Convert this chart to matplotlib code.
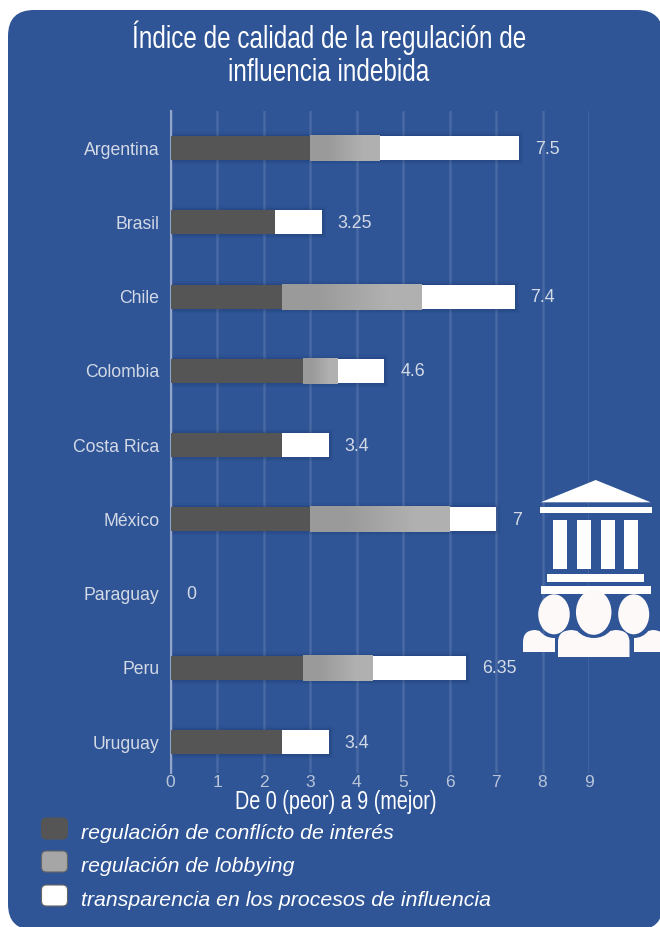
#!/usr/bin/env python3
"""Indice de calidad de la regulacion de influencia indebida - barras apiladas."""
import os
import tempfile

import matplotlib
matplotlib.use("Agg")
import matplotlib.pyplot as plt  # noqa: E402
from fontTools.ttLib import TTFont  # noqa: E402
from matplotlib import font_manager  # noqa: E402
from matplotlib.colors import LinearSegmentedColormap  # noqa: E402
from matplotlib.patches import Ellipse, FancyBboxPatch, PathPatch, Polygon, Rectangle  # noqa: E402
from matplotlib.path import Path  # noqa: E402

PAISES = ["Argentina", "Brasil", "Chile", "Colombia", "Costa Rica", "México", "Paraguay", "Peru", "Uruguay"]
CONFLICTO = [3, 2.25, 2.4, 2.85, 2.4, 3, 0, 2.85, 2.4]
LOBBY = [1.5, 0, 3, 0.75, 0, 3, 0, 1.5, 0]
TRANSPARENCIA = [3, 1, 2, 1, 1, 1, 0, 2, 1]
TOTALES = ["7.5", "3.25", "7.4", "4.6", "3.4", "7", "0", "6.35", "3.4"]
TICKS = list(range(10))
SERIES = ["regulación de conflícto de interés", "regulación de lobbying", "transparencia en los procesos de influencia"]

W, H = 660, 927
AZUL = "#2f5597"
GRIS_OSC = "#555555"
GRIS = "#a6a6a6"
BLANCO = "#ffffff"
TEXTO = "#d3d9e5"
ICONO = "#fdf9f9"


def fuente_estrecha(escala):
    # no hay Helvetica condensada instalada: se angosta una copia de Liberation Sans
    f = TTFont(font_manager.findfont("Liberation Sans"))
    glyf = f["glyf"]
    for nombre in f.getGlyphOrder():
        g = glyf[nombre]
        if g.isComposite():
            for c in g.components:
                c.x = round(c.x * escala)
        elif g.numberOfContours > 0:
            g.coordinates.scale((escala, 1))
            g.coordinates.toInt()
        adv, lsb = f["hmtx"][nombre]
        f["hmtx"][nombre] = (round(adv * escala), round(lsb * escala))
    for tabla in ["fpgm", "prep", "cvt ", "kern", "GPOS", "hdmx", "VDMX", "LTSH"]:
        if tabla in f:
            del f[tabla]
    ruta = os.path.join(tempfile.mkdtemp(), "estrecha.ttf")
    f.save(ruta)
    return font_manager.FontProperties(fname=ruta)


plt.rcParams["font.family"] = ["Liberation Sans", "DejaVu Sans"]
fig = plt.figure(figsize=(W / 100, H / 100), dpi=100, facecolor="white")

# capa de fondo en pixeles
bg = fig.add_axes([0, 0, 1, 1], zorder=0)
bg.set_xlim(0, W)
bg.set_ylim(H, 0)
bg.axis("off")
bg.add_patch(FancyBboxPatch((8 + 26, 10 + 26), 655 - 52, 920 - 52, boxstyle="round,pad=26,rounding_size=26",
                            fc=AZUL, ec="none"))

# grafico
x0, x1, y0, y1 = 170.5, 589, 111, 773
ax = fig.add_axes([x0 / W, 1 - y1 / H, (x1 - x0) / W, (y1 - y0) / H], zorder=1)
ax.patch.set_alpha(0)
pos = list(range(len(PAISES)))
ALTO = 0.325
EXTRA = 0.014  # la barra gris sobresale un poco por abajo

ax.grid(axis="x", color="white", alpha=0.12, lw=1.8)
ax.set_axisbelow(True)
for s in ["top", "right", "bottom"]:
    ax.spines[s].set_visible(False)
ax.spines["left"].set_color("#93a6ca")
ax.spines["left"].set_linewidth(1.5)

izq_transp = [a + b for a, b in zip(CONFLICTO, LOBBY)]
totales_num = [a + b for a, b in zip(izq_transp, TRANSPARENCIA)]

# sombra suave
for lw, al in [(6, 0.05), (3.5, 0.07), (1.5, 0.08)]:
    for p, t in zip(pos, totales_num):
        if t > 0:
            ax.barh(p, t, height=ALTO, color="none", edgecolor=(0.05, 0.1, 0.25, al), linewidth=lw, zorder=2)

ax.barh(pos, CONFLICTO, height=ALTO, color=GRIS_OSC, zorder=4)
ax.barh(pos, LOBBY, left=CONFLICTO, height=ALTO, color=GRIS, zorder=3)
ax.barh(pos, TRANSPARENCIA, left=izq_transp, height=ALTO, color=BLANCO, zorder=3)

# degradado de las barras de lobbying
degradado = LinearSegmentedColormap.from_list("lobby", ["#9a9a9a", "#b0b0b0"])
for p, izq, ancho in zip(pos, CONFLICTO, LOBBY):
    if ancho > 0:
        ax.imshow([[0, 1]], cmap=degradado, aspect="auto", interpolation="bilinear", zorder=3.5,
                  extent=(izq, izq + ancho, p + ALTO / 2 + EXTRA, p - ALTO / 2))

ax.set_xlim(0, 9)
ax.set_ylim(8.417, -0.5)

for p, t, lab in zip(pos, totales_num, TOTALES):
    ax.annotate(lab, (t, p), xytext=(16, -1), textcoords="offset pixels", color=TEXTO, fontsize=12.8,
                va="center", ha="left")

ax.set_yticks(pos, PAISES)
ax.set_xticks(TICKS)
ax.tick_params(axis="y", length=0, pad=8, labelsize=12.7, labelcolor=TEXTO)
ax.tick_params(axis="x", length=0, pad=1.5, labelsize=12.5, labelcolor="#b9c4d9")

# textos
fg = fig.add_axes([0, 0, 1, 1], zorder=2)
fg.set_xlim(0, W)
fg.set_ylim(H, 0)
fg.axis("off")
fg.patch.set_alpha(0)
estrecha = fuente_estrecha(0.76)
fg.text(329, 38, "Índice de calidad de la regulación de", color="white", fontproperties=estrecha, fontsize=23,
        ha="center", va="center")
fg.text(329, 73, "influencia indebida", color="white", fontproperties=estrecha, fontsize=23, ha="center", va="center")
fg.text(336, 802.5, "De 0 (peor) a 9 (mejor)", color="white", fontproperties=estrecha, fontsize=18.7,
        ha="center", va="center")

# leyenda
for nombre, yc, fc, ec in zip(SERIES, [832, 865, 899], [GRIS_OSC, GRIS, BLANCO], [GRIS_OSC, "#666666", "#666666"]):
    fg.add_patch(FancyBboxPatch((45.5, yc - 10), 18, 13, boxstyle="round,pad=4,rounding_size=5", fc=fc, ec=ec, lw=0.8))
    fg.text(81, yc + 1.5, nombre, color="white", style="italic", fontsize=15.35, ha="left", va="center")

# icono edificio + personas
fg.add_patch(Polygon([(540.7, 502.3), (595.7, 480), (650.7, 502.3)], fc="white", ec="none"))
fg.add_patch(Rectangle((540, 507), 112, 6, fc="white", ec="none"))
for cx in [553, 577, 601, 624]:
    fg.add_patch(Rectangle((cx, 520), 14, 49, fc="white", ec="none"))
fg.add_patch(Rectangle((547, 574), 97, 8, fc="white", ec="none"))
fg.add_patch(Rectangle((541, 586), 110, 8, fc="white", ec="none"))


def hombros(xa, xb, ytop, ybot, dip):
    # torso con el hueco del cuello
    xm = (xa + xb) / 2
    w = xb - xa
    verts = [(xa, ybot), (xa, ytop + 12),
             (xa, ytop), (xa + 0.2 * w, ytop),
             (xa + 0.27 * w, ytop + 1),
             (xa + 0.36 * w, ytop + dip), (xm, ytop + dip),
             (xb - 0.36 * w, ytop + dip), (xb - 0.27 * w, ytop + 1),
             (xb - 0.2 * w, ytop),
             (xb, ytop), (xb, ytop + 12),
             (xb, ybot), (xa, ybot)]
    codes = [Path.MOVETO, Path.LINETO,
             Path.CURVE3, Path.CURVE3,
             Path.LINETO,
             Path.CURVE3, Path.CURVE3,
             Path.CURVE3, Path.CURVE3,
             Path.LINETO,
             Path.CURVE3, Path.CURVE3,
             Path.LINETO, Path.CLOSEPOLY]
    return Path(verts, codes)


izq = fg.add_patch(PathPatch(hombros(523, 585, 630, 652, 8), fc=ICONO, ec="none"))
izq.set_clip_path(Rectangle((520, 620), 35, 40, transform=fg.transData))
der = fg.add_patch(PathPatch(hombros(603, 665, 630, 652, 8), fc=ICONO, ec="none"))
der.set_clip_path(Rectangle((633.5, 620), 30, 40, transform=fg.transData))
fg.add_patch(PathPatch(hombros(558, 629.5, 630, 657, 8), fc=ICONO, ec="none"))
fg.add_patch(Ellipse((554, 614.3), 31.5, 40, fc=ICONO, ec="none"))
fg.add_patch(Ellipse((633.7, 614.3), 31, 40, fc=ICONO, ec="none"))
fg.add_patch(Ellipse((593.7, 612.3), 35.5, 45, fc=ICONO, ec="none"))

fig.savefig("out.png", dpi=100)
